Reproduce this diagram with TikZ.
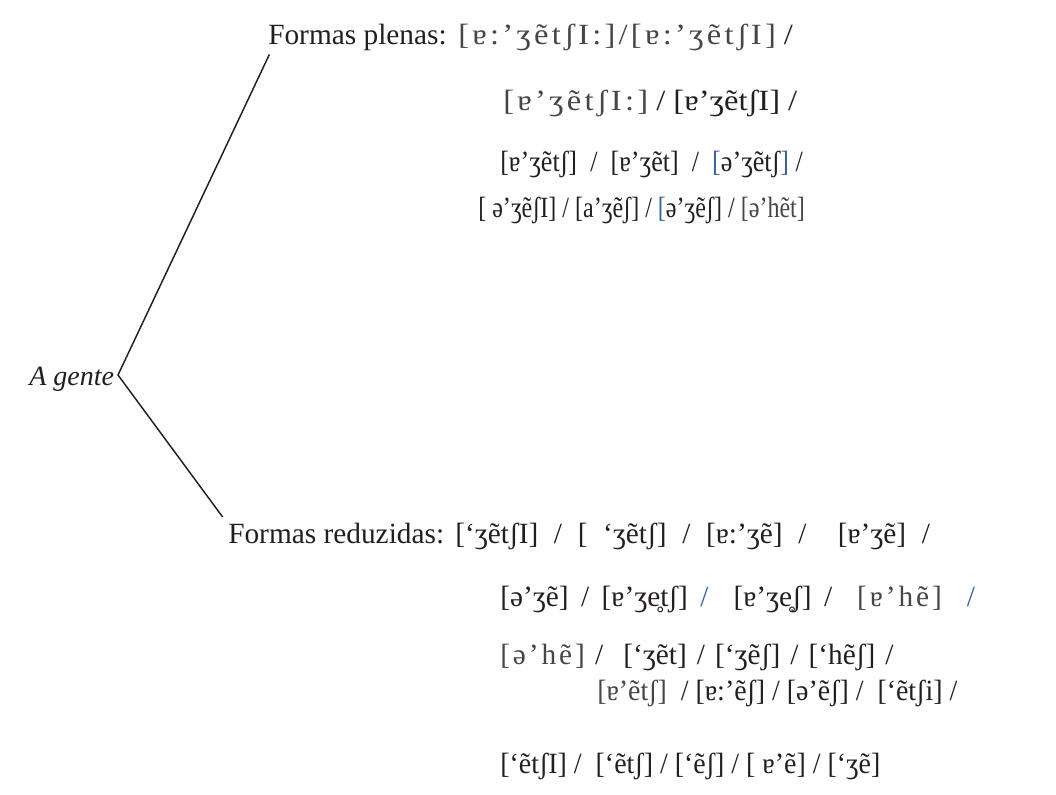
\documentclass[tikz,border=0pt]{standalone}
\usepackage{fontspec}
\setmainfont{Liberation Serif}
\newfontfamily\ipasp[LetterSpace=10]{Liberation Serif}
\definecolor{ink}{RGB}{35,31,32}
\definecolor{lite}{RGB}{70,70,70}
\definecolor{ipablue}{RGB}{55,100,160}
\newcommand{\lt}[1]{{\ipasp\color{lite}#1}}
\newcommand{\ltn}[1]{{\color{lite}#1}}
\newcommand{\bl}[1]{{\color{ipablue}#1}}
\newcommand{\fitw}[2]{\resizebox{#1pt}{\height}{#2}}
\newcommand{\fillw}[2]{\makebox[#1pt][s]{#2}}
\begin{document}
\begin{tikzpicture}[x=0.75pt,y=-0.75pt,
  txt/.style={anchor=base west,inner sep=0pt,font=\fontsize{22}{27}\selectfont,text=ink},
  branch/.style={draw=ink,line width=1.1pt}]
\useasboundingbox (0,0) rectangle (1056,794);
\node[txt,font=\fontsize{21}{26}\selectfont\itshape] (ag) at (29,385) {A gente};
\coordinate (apex) at (118,375);
\node[txt] (fp) at (268,44) {Formas plenas:};
\node[txt] (p1) at (458,44) {\fitw{251}{\lt{[ɐ:’ʒẽtʃI:]/[ɐ:’ʒẽtʃI]} /}};
\node[txt] (p2) at (503,110) {\fitw{220.5}{\lt{[ɐ’ʒẽtʃI:]} / [ɐ’ʒẽtʃI] /}};
\node[txt] (p3) at (500,171) {\fitw{227}{[ɐ’ʒẽtʃ] \ / \ [ɐ’ʒẽt] \ / \ \bl{[}ə’ʒẽtʃ\bl{]} /}};
\node[txt] (p4) at (478,217) {\fitw{245}{[ ə’ʒẽʃI] / [a’ʒẽʃ] / \bl{[}ə’ʒẽʃ] / \ltn{[ə’hẽt]}}};
\node[txt] (fr) at (228,543) {Formas reduzidas:};
\node[txt] (r1) at (455,543) {\fillw{356}{[‘ʒẽtʃI] / [ ‘ʒẽtʃ] / [ɐ:’ʒẽ] / \ [ɐ’ʒẽ] /}};
\node[txt] (r2) at (500,606) {\fillw{356}{[ə’ʒẽ] / [ɐ’ʒe̥tʃ] \bl{/} \ [ɐ’ʒe̥ʃ] / \ \lt{[ɐ’hẽ]} \ \bl{/}}};
\node[txt] (r3) at (500,664) {\fillw{295}{\lt{[ə’hẽ]} / \ [‘ʒẽt] / [‘ʒẽʃ] / [‘hẽʃ] /}};
\node[txt] (r4) at (597,700) {\fitw{270}{\ltn{[ɐ’ẽtʃ]} \ / [ɐ:’ẽʃ] / [ə’ẽʃ] / \ [‘ẽtʃi] /}};
\node[txt] (r5) at (500,773) {\fitw{285}{[‘ẽtʃI] / \ [‘ẽtʃ] / [‘ẽʃ] / [ ɐ’ẽ] / [‘ʒẽ]}};
\draw[branch] ([xshift=1pt,yshift=-3pt]fp.south west) -- (apex) -- ([xshift=-4pt,yshift=12pt]fr.west);
\end{tikzpicture}
\end{document}
